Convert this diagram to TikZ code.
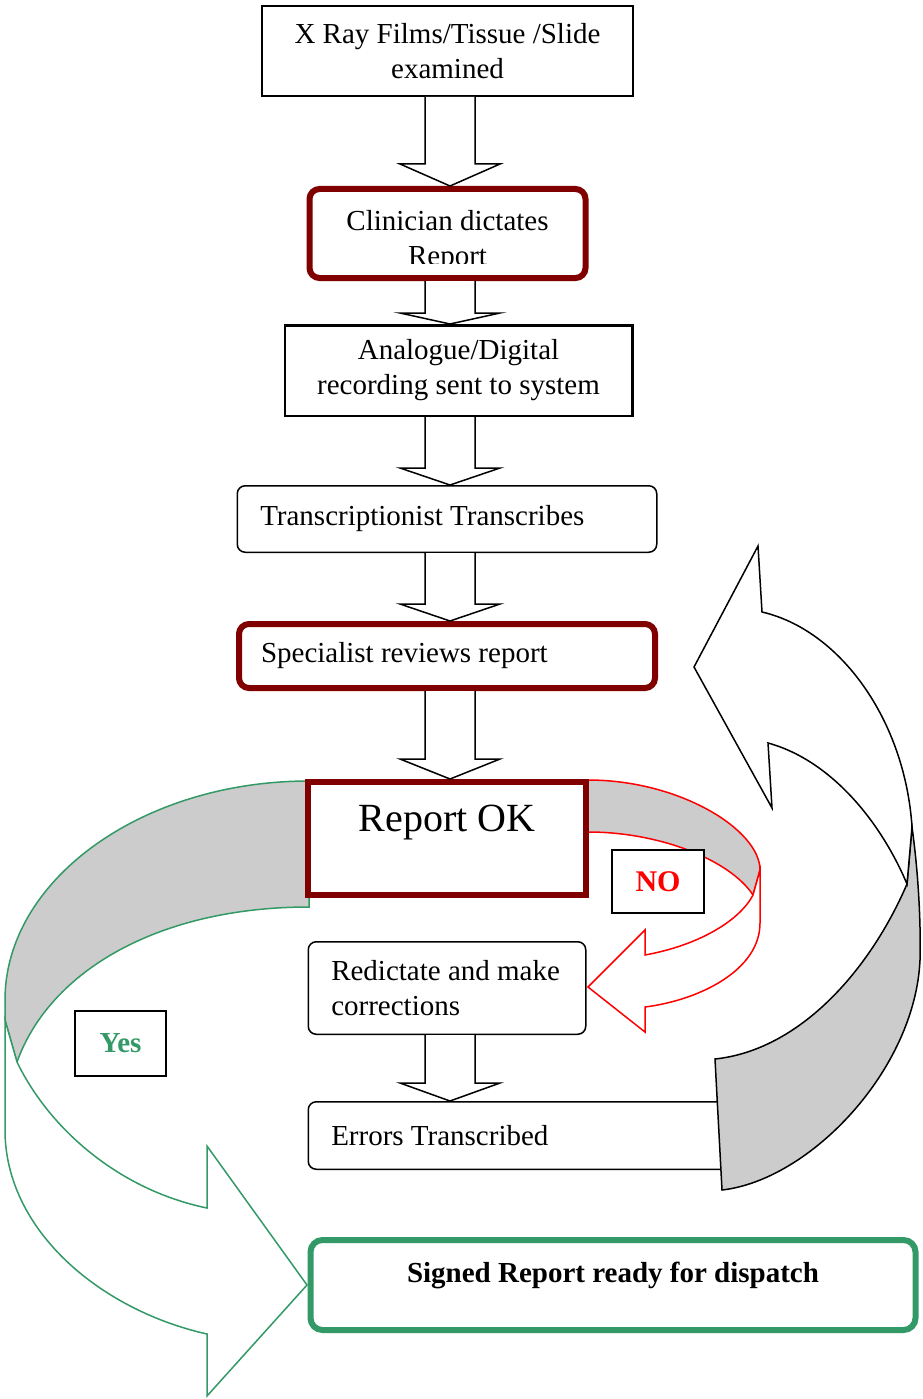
\documentclass[tikz,border=0pt]{standalone}
\usepackage{fontspec}
\setmainfont{Liberation Serif}
\usetikzlibrary{positioning,calc}

\definecolor{darkred}{HTML}{800000}
\definecolor{yesgreen}{HTML}{339966}
\definecolor{bandgray}{HTML}{CCCCCC}

\tikzset{
  box text/.style={font=\fontsize{29}{35}\selectfont},
  plain box/.style={draw, line width=2pt, fill=white, box text},
  soft box/.style={plain box, rounded corners=8pt, line width=1.5pt},
  key box/.style={plain box, rounded corners=10pt, draw=darkred, line width=6pt},
  hollow arrow/.style={draw, line width=1.5pt, fill=white},
  band/.style={fill=bandgray, line width=1.5pt},
  front/.style={fill=white, line width=1.5pt},
}

% block arrow from the bottom of #2 to the top of #3, head length #1
\newcommand{\blockarrow}[3][18]{%
  \path[hollow arrow] ($(spine |- #2.south)+(-25,0)$) -- ($(spine |- #3.north)+(-25,-#1)$)
    -- ($(spine |- #3.north)+(-50,-#1)$) -- (spine |- #3.north)
    -- ($(spine |- #3.north)+(50,-#1)$) -- ($(spine |- #3.north)+(25,-#1)$)
    -- ($(spine |- #2.south)+(25,0)$);
}

\begin{document}
\begin{tikzpicture}[x=1pt,y=-1pt]
  \path[fill=white,use as bounding box] (0,0) rectangle (922,1399);
  \coordinate (spine) at (450,0);

  % yes loop
  \draw[band, draw=yesgreen] (309,781) .. controls (142,781) and (5,880) .. (5,1000) -- (5,1020) -- (17,1062)
    .. controls (50,970) and (160,907) .. (309,907) -- cycle;
  \draw[front, draw=yesgreen] (5,1020) -- (5,1130) .. controls (5,1230) and (100,1310) .. (207,1334)
    -- (207,1396) -- (307,1285) -- (207,1146) -- (207,1208)
    .. controls (120,1190) and (50,1130) .. (17,1062) -- cycle;

  % no loop
  \draw[band, draw=red] (588,780) .. controls (680,780) and (760,830) .. (760,870) -- (753,895)
    .. controls (730,860) and (660,832) .. (588,832) -- cycle;
  \draw[front, draw=red] (760,870) -- (760,923) .. controls (760,970) and (700,1000) .. (645,1007)
    -- (645,1032) -- (588,987) -- (645,930) -- (645,955)
    .. controls (700,945) and (740,920) .. (753,895) -- cycle;

  \node[plain box, minimum width=371pt, minimum height=90pt, align=center] (films) at (447.5,51)
    {X Ray Films/Tissue /Slide\\examined};
  \node[key box, minimum width=276pt, minimum height=89pt, below=89pt of films] (dictate) {};
  \begin{scope}
    \clip ([xshift=3pt,yshift=-3pt]dictate.north west) rectangle ([xshift=-3pt,yshift=18pt]dictate.south east);
    \node[box text, align=center] (dictatetext) at ([yshift=-8pt]dictate.center) {Clinician dictates\\Report};
  \end{scope}
  \node[plain box, line width=2.5pt, minimum width=347.5pt, minimum height=90.5pt, align=center,
    below=43pt of dictate, xshift=11pt] (recording) {Analogue/Digital\\recording sent to system};
  \node[soft box, minimum width=419.5pt, minimum height=66.5pt, text width=373.5pt, inner xsep=23pt, align=flush left,
    below=68pt of recording, xshift=-11.5pt] (transcribe) {Transcriptionist Transcribes};
  \node[key box, minimum width=416pt, minimum height=64pt, text width=372pt, inner xsep=22pt, align=flush left,
    below=68pt of transcribe] (review) {Specialist reviews report};
  \node[key box, sharp corners, minimum width=278pt, minimum height=113pt, font=\fontsize{40}{48}\selectfont,
    text height=27pt, text depth=42pt, below=88pt of review] (ok) {Report OK};
  \node[soft box, minimum width=277.5pt, minimum height=92.5pt, text width=231.5pt, inner xsep=23pt, align=flush left,
    below=43pt of ok] (redictate) {\mbox{Redictate and make}\\corrections};
  \node[soft box, minimum width=430.5pt, minimum height=67.5pt, text width=384.5pt, inner xsep=23pt, align=flush left,
    below=66pt of redictate.south west, anchor=north west] (errors) {Errors Transcribed};
  \node[key box, draw=yesgreen, rounded corners=12pt, minimum width=605pt, minimum height=90pt,
    font=\bfseries\fontsize{29}{35}\selectfont, text height=20pt, text depth=26pt,
    below=67pt of errors.south west, anchor=north west] (signed) {Signed Report ready for dispatch};

  % back loop
  \draw[band] (912,827) .. controls (918,870) and (921,920) .. (920,960)
    .. controls (915,1070) and (810,1180) .. (722,1190) -- (715,1059)
    .. controls (800,1050) and (870,970) .. (907,884) -- cycle;
  \draw[front] (762,612) .. controls (840,630) and (905,720) .. (912,827) -- (907,884)
    .. controls (880,820) and (830,760) .. (768,743) -- (772,808) -- (694,667) -- (758,546) -- cycle;

  \blockarrow[22]{films}{dictate}
  \blockarrow[11]{dictate}{recording}
  \blockarrow[17]{recording}{transcribe}
  \blockarrow[17]{transcribe}{review}
  \blockarrow[20]{review}{ok}
  \blockarrow[18]{redictate}{errors}

  \node[plain box, font=\bfseries\fontsize{30}{36}\selectfont, text=red, minimum width=92pt, minimum height=63pt]
    (no) at (658,881.5) {NO};
  \node[plain box, font=\bfseries\fontsize{29}{35}\selectfont, text=yesgreen, minimum width=91pt, minimum height=65pt]
    (yes) at (120.5,1043.5) {Yes};
\end{tikzpicture}
\end{document}
